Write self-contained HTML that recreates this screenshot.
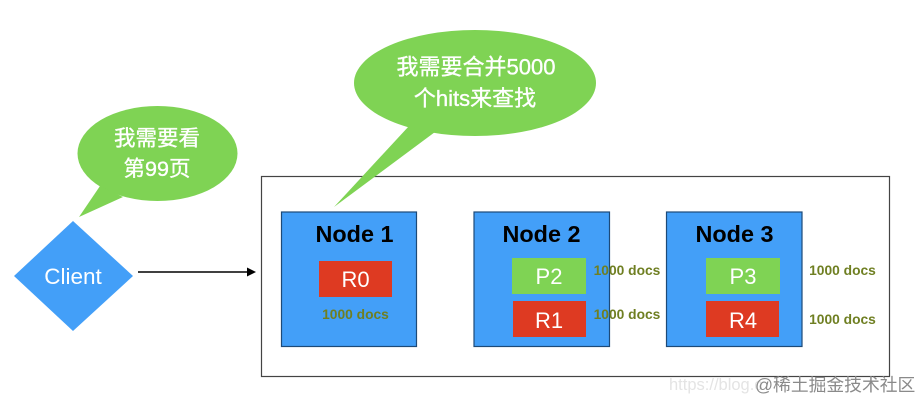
<!DOCTYPE html>
<html><head><meta charset="utf-8"><style>
html,body{margin:0;padding:0;background:#fff}
svg{display:block}
text{font-family:"Liberation Sans","Noto Sans CJK SC",sans-serif;text-anchor:middle}
.b{font-weight:bold;font-size:23.4px;fill:#000}
.s{fill:#fff;font-size:22px}
.d{font-weight:bold;font-size:13.8px;fill:#6f7f22}
.c{fill:#fff;stroke:#fff;stroke-width:.35px}
</style></head><body>
<svg width="920" height="401" viewBox="0 0 920 401" xmlns="http://www.w3.org/2000/svg">
<rect width="920" height="401" fill="#fff"/>
<rect x="261.5" y="176.5" width="628" height="200" fill="#fff" stroke="#444" stroke-width="1.2"/>
<g fill="#439ff8" stroke="#1d4a78" stroke-width="1.2">
<rect x="281.5" y="212" width="135" height="134.5"/>
<rect x="474" y="212" width="135.5" height="134.5"/>
<rect x="666.5" y="212" width="135.5" height="134.5"/>
</g>
<polygon points="73,221 133,276 73,331 14,276" fill="#439ff8"/>
<text x="73" y="284" class="s" style="font-size:22.5px">Client</text>
<line x1="138" y1="272" x2="249" y2="272" stroke="#000" stroke-width="1.5"/>
<polygon points="247,267.5 256,272 247,276.5" fill="#000"/>
<g fill="#7fd354">
<ellipse cx="157.5" cy="153.5" rx="80" ry="47.5"/>
<polygon points="100,186 79,217 123,197"/>
<ellipse cx="475" cy="83" rx="121" ry="53"/>
<polygon points="409,126 334,207 435,132"/>
</g>
<text x="157" y="145.5" class="c" style="font-size:21.5px">我需要看</text>
<text x="157" y="176" class="c" style="font-size:21.5px">第99页</text>
<text x="476" y="74.5" class="c" style="font-size:22px">我需要合并5000</text>
<text x="475" y="106" class="c" style="font-size:22px">个hits来查找</text>
<text x="354.5" y="242" class="b">Node 1</text>
<text x="541.5" y="242" class="b">Node 2</text>
<text x="734.5" y="242" class="b">Node 3</text>
<rect x="319" y="261" width="73" height="36" fill="#de3a22"/>
<rect x="512" y="258" width="74" height="36" fill="#7fd354"/>
<rect x="513" y="301" width="73" height="36" fill="#de3a22"/>
<rect x="706" y="258" width="74" height="36" fill="#7fd354"/>
<rect x="706" y="301" width="73" height="36" fill="#de3a22"/>
<text x="355.5" y="287" class="s">R0</text>
<text x="549" y="284" class="s">P2</text>
<text x="549" y="328" class="s">R1</text>
<text x="743" y="284" class="s">P3</text>
<text x="743" y="328" class="s">R4</text>
<text x="355.5" y="319" class="d">1000 docs</text>
<text x="627" y="275" class="d">1000 docs</text>
<text x="627" y="319" class="d">1000 docs</text>
<text x="842.5" y="275" class="d">1000 docs</text>
<text x="842.5" y="324" class="d">1000 docs</text>
<text x="669" y="390" style="text-anchor:start;font-size:16.5px;fill:#e4e4e4">https://blog.c</text>
<text x="755" y="391" style="text-anchor:start;font-size:17.8px;fill:#8a8a8a">@稀土掘金技术社区</text>
</svg>
</body></html>
